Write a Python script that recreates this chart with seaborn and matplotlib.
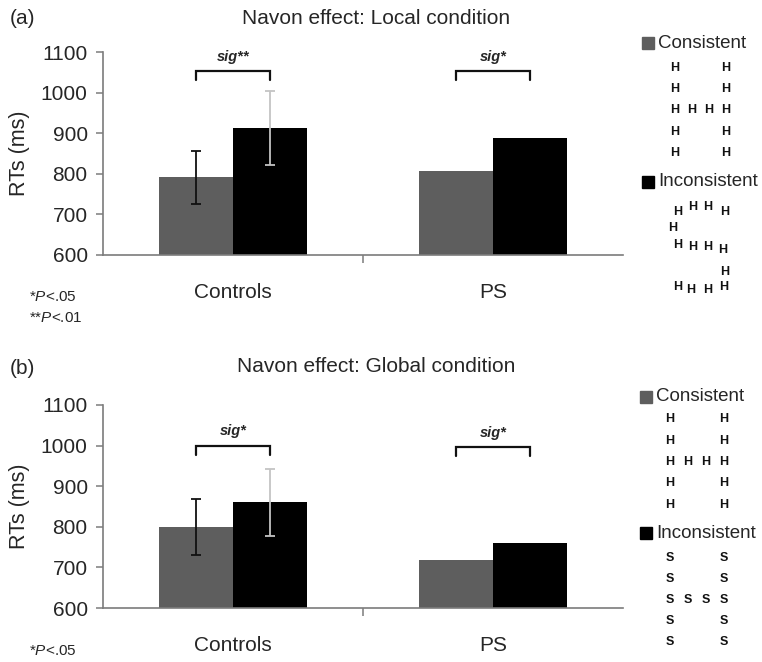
import numpy as np
import pandas as pd
import seaborn as sns
import matplotlib.pyplot as plt
from matplotlib.patches import Rectangle

# data (RTs in ms)
groups = ["Controls", "PS"]
conditions = ["Consistent", "Inconsistent"]

local_consistent = [791, 806]
local_inconsistent = [913, 887]
local_consistent_err = [65, np.nan]
local_inconsistent_err = [92, np.nan]
local_sig = ["sig**", "sig*"]

global_consistent = [800, 718]
global_inconsistent = [860, 760]
global_consistent_err = [69, np.nan]
global_inconsistent_err = [82, np.nan]
global_sig = ["sig*", "sig*"]

y_ticks = [600, 700, 800, 900, 1000, 1100]

W, H = 762, 662
GRAY = "#5e5e5e"
BLACK = "#000000"
LIGHT = "#c4c4c4"
SPINE = "#7c7c7c"

sns.set_theme(style="white")
plt.rcParams["font.family"] = ["Liberation Sans", "DejaVu Sans"]
plt.rcParams["mathtext.fontset"] = "custom"
plt.rcParams["mathtext.rm"] = "Liberation Sans"
plt.rcParams["mathtext.it"] = "Liberation Sans:italic"


def px(x, y):
    return x / W, 1 - y / H


def draw_panel(ax, cons, incons, cons_err, incons_err, sig, bracket_y):
    df = pd.DataFrame({
        "group": groups * 2,
        "cond": [conditions[0]] * 2 + [conditions[1]] * 2,
        "rt": cons + incons,
    })
    sns.barplot(data=df, x="group", y="rt", hue="cond", order=groups,
                hue_order=conditions, palette=[GRAY, BLACK], saturation=1,
                width=0.57, errorbar=None, linewidth=0, legend=False, ax=ax)

    bars = sorted(ax.patches, key=lambda p: p.get_x())
    cons_bars = bars[0::2]
    incons_bars = bars[1::2]
    for bset, errs, col in ((cons_bars, cons_err, "#111111"), (incons_bars, incons_err, LIGHT)):
        for b, e in zip(bset, errs):
            if np.isnan(e):
                continue
            xc = b.get_x() + b.get_width() / 2
            ax.errorbar(xc, b.get_height(), yerr=e, color=col, capsize=3.5,
                        elinewidth=1.3, capthick=1.3, zorder=5)

    # significance brackets
    for cb, ib, s, y in zip(cons_bars, incons_bars, sig, bracket_y):
        x1 = cb.get_x() + cb.get_width() / 2
        x2 = ib.get_x() + ib.get_width() / 2
        ax.plot([x1, x1, x2, x2], [y - 22, y, y, y - 22], color="#111111",
                lw=1.6, clip_on=False, solid_joinstyle="miter")
        ax.text((x1 + x2) / 2, y + 18, s, ha="center", va="bottom",
                fontsize=10.5, fontweight="bold", fontstyle="italic")

    ax.set_ylim(600, 1100)
    ax.set_xlim(-0.5, 1.5)
    ax.set_yticks(y_ticks)
    ax.set_xticks([0, 1], groups)
    ax.set_xticks([0.5], minor=True)
    ax.set_xlabel("")
    ax.set_ylabel("RTs (ms)", fontsize=15.5)
    ax.yaxis.set_label_coords(-0.14, 0.5)
    sns.despine(ax=ax)
    for side in ("left", "bottom"):
        ax.spines[side].set_color(SPINE)
        ax.spines[side].set_linewidth(1.2)
    ax.tick_params(axis="y", which="major", left=True, length=5, width=1.1,
                   color=SPINE, labelsize=15, pad=6)
    ax.tick_params(axis="x", which="major", bottom=False, labelsize=15, pad=14)
    ax.tick_params(axis="x", which="minor", bottom=True, length=6, width=1.1,
                   color=SPINE)


def draw_letters(letter, cells, x0, y0, dx, dy):
    for col, row in cells:
        fig.text(*px(x0 + col * dx, y0 + row * dy), letter, ha="center",
                 va="center", fontsize=9, fontweight="bold", color="#111111")


def legend_entry(x, y, color, label):
    fig.add_artist(Rectangle(px(x, y + 6), 12 / W, 12 / H, color=color,
                             transform=fig.transFigure))
    fig.text(*px(x + 16, y), label, ha="left", va="center", fontsize=13.5)


# big "H" built from small letters (col, row)
navon_h = [(c, r) for r in range(5) for c in range(4) if c in (0, 3) or r == 2]
# big "S" built from scattered H's (col, row)
navon_s = [(0.18, 0.25), (1.05, 0), (1.95, 0), (2.95, 0.25),
           (-0.12, 1.0),
           (0.18, 1.8), (1.05, 1.9), (1.95, 1.9), (2.82, 2.05),
           (2.95, 3.1),
           (0.18, 3.8), (0.9, 3.95), (1.95, 3.95), (2.88, 3.8)]

fig = plt.figure(figsize=(W / 100, H / 100), dpi=100)

ax_a = fig.add_axes([103 / W, 1 - 255 / H, 520 / W, 203 / H])
draw_panel(ax_a, local_consistent, local_inconsistent, local_consistent_err,
           local_inconsistent_err, local_sig, [1052, 1052])
ax_b = fig.add_axes([103 / W, 1 - 608 / H, 520 / W, 203 / H])
draw_panel(ax_b, global_consistent, global_inconsistent, global_consistent_err,
           global_inconsistent_err, global_sig, [1000, 996])

fig.text(*px(10, 18), "(a)", ha="left", va="center", fontsize=15)
fig.text(*px(376, 18), "Navon effect: Local condition", ha="center",
         va="center", fontsize=15)
fig.text(*px(10, 369), "(b)", ha="left", va="center", fontsize=15)
fig.text(*px(376, 367), "Navon effect: Global condition", ha="center",
         va="center", fontsize=15)

fig.text(*px(29, 297), r"*$\mathit{P}$<.05", ha="left", va="center", fontsize=11)
fig.text(*px(29, 318), r"**$\mathit{P}$<.01", ha="left", va="center", fontsize=11)
fig.text(*px(29, 651), r"*$\mathit{P}$<.05", ha="left", va="center", fontsize=11)

# legend (a)
legend_entry(642, 43, GRAY, "Consistent")
draw_letters("H", navon_h, 675, 68, 17, 21.2)
legend_entry(642, 182, BLACK, "Inconsistent")
draw_letters("H", navon_s, 675, 207, 17, 21)

# legend (b)
legend_entry(640, 397, GRAY, "Consistent")
draw_letters("H", navon_h, 670, 419, 18, 21.5)
legend_entry(640, 533, BLACK, "Inconsistent")
draw_letters("S", navon_h, 670, 558, 18, 21)

fig.savefig("out.png", dpi=100)
